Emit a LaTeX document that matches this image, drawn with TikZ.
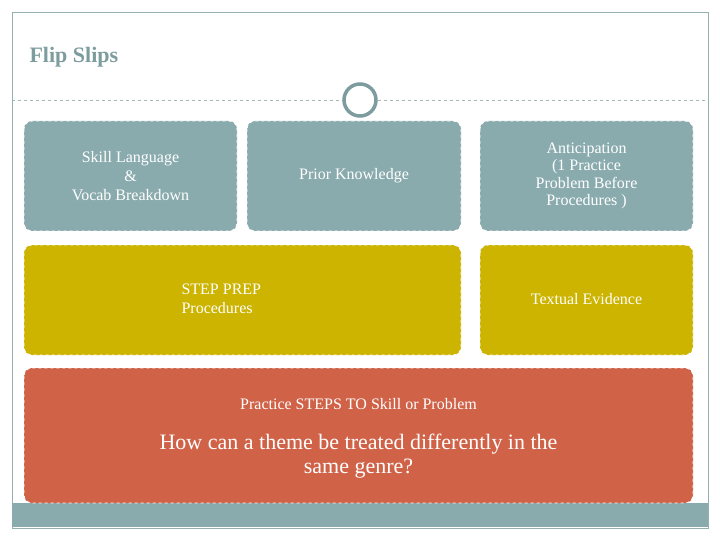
\documentclass[tikz,border=0pt]{standalone}
\usepackage{fontspec}
\setmainfont{Liberation Serif}
\definecolor{tealg}{HTML}{8AABAE}
\definecolor{titlec}{HTML}{7C9C9E}
\definecolor{yel}{HTML}{CCB400}
\definecolor{redb}{HTML}{D06248}
\begin{document}
\begin{tikzpicture}[x=1pt,y=-1pt,
  box/.style={rounded corners=8pt,draw=white,dashed,line width=0.8pt},
  txt/.style={text=white,font=\fontsize{16}{19}\selectfont,align=center}]
\useasboundingbox (0,0) rectangle (720,540);
\fill[white] (0,0) rectangle (720,540);
\draw[titlec!80,line width=0.8pt] (12,12) rectangle (708,528);
\fill[tealg] (12,503) rectangle (708,527);
\node[anchor=west,text=titlec,font=\fontsize{22}{26}\selectfont\bfseries] (title) at (26,57) {Flip Slips};
\draw[titlec!70,dashed] (12,100) -- (708,100);
\node[circle,draw=titlec,line width=3.5pt,fill=white,minimum size=32pt,inner sep=0pt] (circ) at (360,100) {};
\filldraw[box,fill=tealg] (24,121) rectangle (237,231);
\filldraw[box,fill=tealg] (247,121) rectangle (461,231);
\filldraw[box,fill=tealg] (480,121) rectangle (693,231);
\filldraw[box,fill=yel] (24,245) rectangle (461,355);
\filldraw[box,fill=yel] (480,245) rectangle (693,355);
\filldraw[box,fill=redb] (24,368) rectangle (693,503);
\node[txt] (skill) at (130.5,176) {Skill Language\\\&\\Vocab Breakdown};
\node[txt] (prior) at (354,176) {Prior Knowledge};
\node[txt,font=\fontsize{16}{17.5}\selectfont] (antic) at (586.5,176) {Anticipation\\(1 Practice\\Problem Before\\Procedures )};
\node[txt,align=left,anchor=west] (step) at (178,299) {STEP PREP\\Procedures};
\node[txt] (text) at (586.5,299) {Textual Evidence};
\node[txt] (prac) at (358.5,404) {Practice STEPS TO Skill or Problem};
\node[txt,font=\fontsize{22}{24}\selectfont] (q) at (358.5,456) {How can a theme be treated differently in the\\same genre?};
\end{tikzpicture}
\end{document}
